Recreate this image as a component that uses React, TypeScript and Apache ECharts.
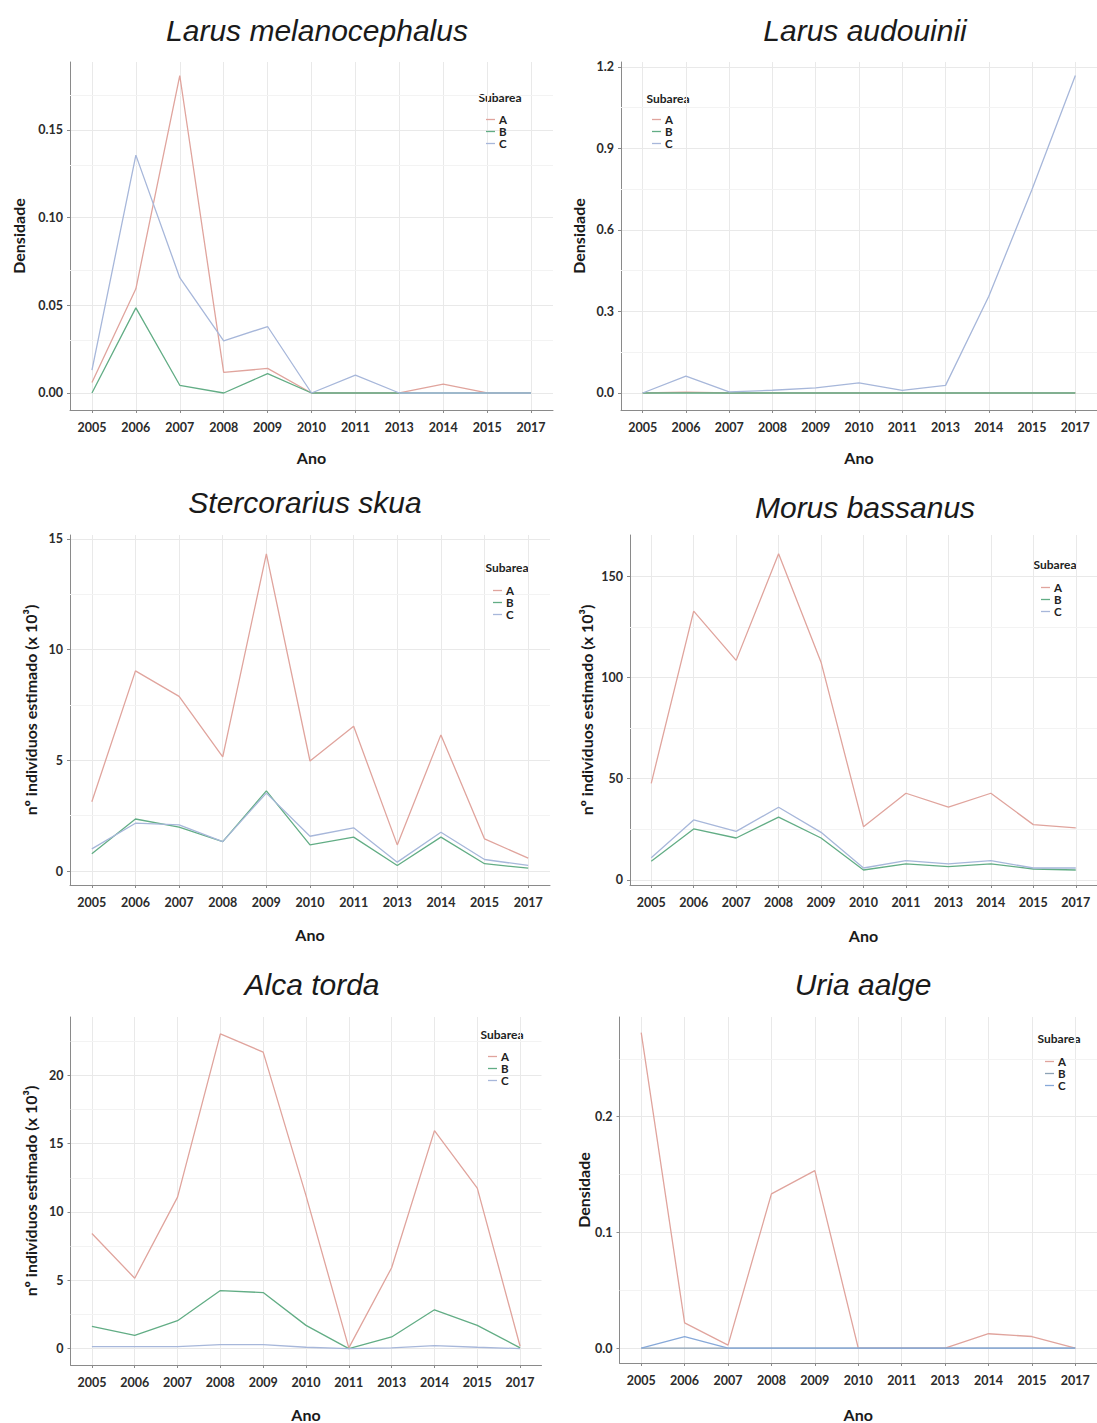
import React, { useEffect, useRef } from "react";
import * as echarts from "echarts";

const years = ["2005", "2006", "2007", "2008", "2009", "2010", "2011", "2013", "2014", "2015", "2017"];
const subareas = ["A", "B", "C"];

// Larus melanocephalus (Densidade)
const melA = [0.006, 0.0594, 0.181, 0.0117, 0.014, 0, 0, 0, 0.005, 0, 0];
const melB = [0, 0.0485, 0.0044, 0, 0.011, 0, 0, 0, 0, 0, 0];
const melC = [0.013, 0.1356, 0.0657, 0.0297, 0.0379, 0, 0.0102, 0, 0, 0, 0];

// Larus audouinii (Densidade)
const audA = [0, 0.003, 0, 0, 0, 0, 0, 0, 0, 0, 0];
const audB = [0, 0, 0, 0, 0, 0, 0, 0, 0, 0, 0];
const audC = [0, 0.062, 0.004, 0.01, 0.019, 0.037, 0.01, 0.028, 0.356, 0.75, 1.168];

// Stercorarius skua (x 10^3)
const skuA = [3.13, 9.04, 7.89, 5.16, 14.33, 4.97, 6.54, 1.18, 6.15, 1.45, 0.58];
const skuB = [0.78, 2.35, 1.98, 1.33, 3.62, 1.18, 1.53, 0.25, 1.53, 0.33, 0.13];
const skuC = [1.0, 2.16, 2.08, 1.33, 3.52, 1.57, 1.95, 0.4, 1.75, 0.52, 0.25];

// Morus bassanus (x 10^3)
const morA = [47.7, 132.7, 108.4, 161, 107.5, 26.3, 42.8, 35.9, 42.8, 27.3, 25.7];
const morB = [9.2, 25.2, 20.7, 31, 20.7, 4.9, 7.9, 6.6, 7.9, 5.4, 4.9];
const morC = [10.9, 29.6, 24, 35.9, 23.5, 5.9, 9.5, 7.9, 9.5, 5.9, 5.9];

// Alca torda (x 10^3)
const alcA = [8.42, 5.15, 11.09, 23.03, 21.7, 11.2, 0.05, 5.92, 15.95, 11.75, 0.17];
const alcB = [1.63, 0.97, 2.04, 4.25, 4.1, 1.7, 0, 0.85, 2.84, 1.7, 0.05];
const alcC = [0.15, 0.15, 0.15, 0.29, 0.29, 0.1, 0, 0.05, 0.22, 0.1, 0];

// Uria aalge (Densidade)
const uriA = [0.2727, 0.0218, 0.0026, 0.1333, 0.1534, 0, 0, 0, 0.0124, 0.01, 0];
const uriB = [0, 0, 0, 0, 0, 0, 0, 0, 0, 0, 0];
const uriC = [0, 0.0098, 0, 0, 0, 0, 0, 0, 0, 0, 0];

// axis ticks
const ticksMel = [0, 0.05, 0.1, 0.15];
const minorMel = [0.025, 0.075, 0.125, 0.175];
const ticksAud = [0, 0.3, 0.6, 0.9, 1.2];
const minorAud = [0.15, 0.45, 0.75, 1.05];
const ticksSku = [0, 5, 10, 15];
const minorSku = [2.5, 7.5, 12.5];
const ticksMor = [0, 50, 100, 150];
const minorMor = [25, 75, 125];
const ticksAlc = [0, 5, 10, 15, 20];
const minorAlc = [2.5, 7.5, 12.5, 17.5, 22.5];
const ticksUri = [0, 0.1, 0.2];
const minorUri = [0.05, 0.15, 0.25];

const colA = "#e0a49d";
const colB = "#62ad85";
const colC = "#a7b7da";

const FONT = "Lato";
const yNameDens = "Densidade";
const yNameInd = "nº indivíduos estimado (x 10³)";

const panels = [
  {
    title: "Larus melanocephalus", tx: 312, ty: 28,
    grid: { left: 70, top: 62, width: 483, height: 348 },
    yMin: -0.0097, yMax: 0.1887, ticks: ticksMel, minor: minorMel, dec: 2,
    yName: yNameDens, yGap: 44, xGap: 39,
    lg: { left: 486, top: 113.5 }, sub: { x: 500, y: 97 },
    series: [melA, melB, melC], colors: [colA, colB, colC],
  },
  {
    title: "Larus audouinii", tx: 860, ty: 28,
    grid: { left: 621, top: 62, width: 477, height: 348 },
    yMin: -0.0626, yMax: 1.218, ticks: ticksAud, minor: minorAud, dec: 1,
    yName: yNameDens, yGap: 35, xGap: 39,
    lg: { left: 652, top: 113.5 }, sub: { x: 668, y: 98 },
    series: [audA, audB, audC], colors: [colA, colB, colC],
  },
  {
    title: "Stercorarius skua", tx: 300, ty: 500,
    grid: { left: 70, top: 535, width: 480, height: 350 },
    yMin: -0.632, yMax: 15.18, ticks: ticksSku, minor: minorSku, dec: 0,
    yName: yNameInd, yGap: 32, xGap: 41,
    lg: { left: 493, top: 584.5 }, sub: { x: 507, y: 567 },
    series: [skuA, skuB, skuC], colors: [colA, colB, colC],
  },
  {
    title: "Morus bassanus", tx: 860, ty: 505,
    grid: { left: 630, top: 535, width: 473, height: 350 },
    yMin: -2.5, yMax: 170.3, ticks: ticksMor, minor: minorMor, dec: 0,
    yName: yNameInd, yGap: 36, xGap: 42,
    lg: { left: 1041, top: 581.5 }, sub: { x: 1055, y: 564 },
    series: [morA, morB, morC], colors: [colA, colB, colC],
  },
  {
    title: "Alca torda", tx: 307, ty: 982,
    grid: { left: 70.5, top: 1017, width: 471, height: 350 },
    yMin: -1.2, yMax: 24.27, ticks: ticksAlc, minor: minorAlc, dec: 0,
    yName: yNameInd, yGap: 32, xGap: 41,
    lg: { left: 488, top: 1050.5 }, sub: { x: 502, y: 1034 },
    series: [alcA, alcB, alcC], colors: [colA, colB, colC],
  },
  {
    title: "Uria aalge", tx: 858, ty: 982,
    grid: { left: 619.5, top: 1017, width: 477.5, height: 347 },
    yMin: -0.0129, yMax: 0.2862, ticks: ticksUri, minor: minorUri, dec: 1,
    yName: yNameDens, yGap: 27.5, xGap: 43,
    lg: { left: 1045, top: 1055.5 }, sub: { x: 1059, y: 1038 },
    series: [uriA, uriB, uriC], colors: [colA, "#8da2b5", "#87a9d9"],
  },
];

const xIdx = years.map((_, i) => i);

export default function App() {
  const ref = useRef<HTMLDivElement>(null);
  useEffect(() => {
    document.body.style.margin = "0";
    if (!ref.current) return;
    const chart = echarts.init(ref.current, null, { renderer: "svg" });
    const axisColor = "#8a8a8a";
    const labelStyle = { fontFamily: FONT, fontWeight: "bold", fontSize: 12.5, color: "#2b2b2b" };
    const nameStyle = { fontFamily: FONT, fontWeight: "bold", fontSize: 16, color: "#1a1a1a" };

    const series: any[] = [];
    panels.forEach((p, i) => {
      series.push({
        type: "line", name: "_minor" + i, xAxisIndex: i, yAxisIndex: i, data: [], z: 1, silent: true,
        markLine: {
          z: 1, silent: true, symbol: "none", label: { show: false }, animation: false,
          lineStyle: { color: "#f3f3f3", width: 1, type: "solid" },
          emphasis: { disabled: true },
          data: p.minor.map((v) => ({ yAxis: v })),
        },
      });
      p.series.forEach((vals, k) => {
        series.push({
          type: "line", name: subareas[k], xAxisIndex: i, yAxisIndex: i, z: 3, silent: true,
          symbol: "none", data: vals.map((v, j) => [j, v]),
          lineStyle: { width: 1.3, color: p.colors[k] }, itemStyle: { color: p.colors[k] },
        });
      });
    });

    const option: any = {
      animation: false,
      backgroundColor: "#ffffff",
      title: panels.map((p) => ({
        text: p.title, left: p.tx, top: p.ty - 18, textAlign: "center",
        textStyle: { fontFamily: "Liberation Sans", fontStyle: "italic", fontWeight: "normal", fontSize: 30, color: "#1a1a1a" },
      })),
      grid: panels.map((p) => ({ ...p.grid, containLabel: false })),
      xAxis: panels.map((p, i) => ({
        gridIndex: i, type: "value", min: -0.5, max: 10.5,
        name: "Ano", nameLocation: "middle", nameGap: p.xGap, nameTextStyle: nameStyle,
        axisLine: { onZero: false, lineStyle: { color: axisColor, width: 1 } },
        axisTick: { customValues: xIdx, length: 3, lineStyle: { color: axisColor } },
        axisLabel: { customValues: xIdx, margin: 11, ...labelStyle, formatter: (v: number) => years[Math.round(v)] },
        splitLine: { show: true, lineStyle: { color: "#e9e9e9", width: 1 } },
      })),
      yAxis: panels.map((p, i) => ({
        gridIndex: i, type: "value", min: p.yMin, max: p.yMax,
        name: p.yName, nameLocation: "middle", nameRotate: 90, nameGap: p.yGap, nameTextStyle: nameStyle,
        axisLine: { show: true, onZero: false, lineStyle: { color: axisColor, width: 1 } },
        axisTick: { show: true, customValues: p.ticks, length: 3, lineStyle: { color: axisColor } },
        axisLabel: { customValues: p.ticks, margin: 7, ...labelStyle, formatter: (v: number) => v.toFixed(p.dec) },
        splitLine: { show: true, lineStyle: { color: "#e9e9e9", width: 1 } },
      })),
      legend: panels.map((p) => ({
        left: p.lg.left, top: p.lg.top, orient: "vertical", icon: "rect", itemWidth: 9, itemHeight: 1.3, itemGap: 0,
        padding: 0, selectedMode: false,
        textStyle: { fontFamily: FONT, fontWeight: "bold", fontSize: 11.5, lineHeight: 11, color: "#222", padding: [0, 0, 0, -1] },
        data: subareas.map((s, k) => ({ name: s, itemStyle: { color: p.colors[k] } })),
      })),
      graphic: panels.map((p) => ({
        type: "text", x: p.sub.x, y: p.sub.y,
        style: { text: "Subarea", fontFamily: FONT, fontWeight: "bold", fontSize: 12, fill: "#222", align: "center", verticalAlign: "middle" },
      })),
      series,
    };
    chart.setOption(option);
    return () => chart.dispose();
  }, []);
  return <div ref={ref} style={{ width: 1097, height: 1423 }} />;
}
